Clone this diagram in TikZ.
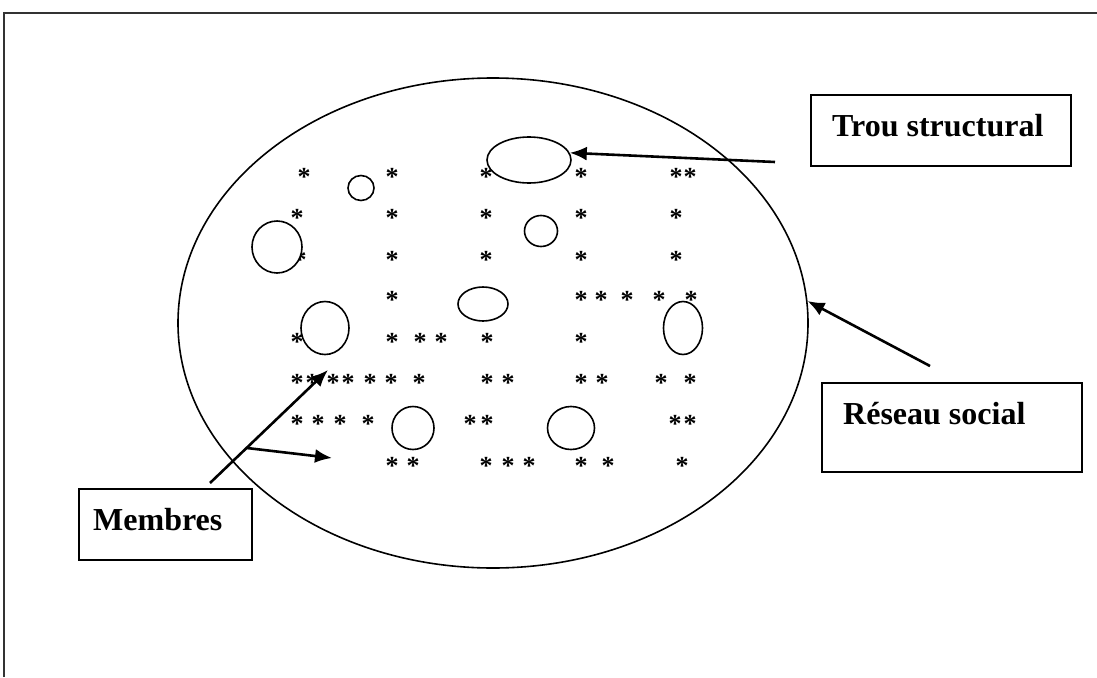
\documentclass[tikz,border=0pt]{standalone}
\usepackage{fontspec}
\setmainfont{Liberation Serif}
\usetikzlibrary{shapes.geometric,arrows.meta}
\tikzset{
  hole/.style={draw,ellipse,fill=white,line width=1.6pt,inner sep=0pt},
  ast/.style={font=\fontsize{26}{26}\selectfont\bfseries,inner sep=0pt,anchor=base,yshift=-12pt},
  box/.style={draw,line width=2pt,fill=white,inner sep=0pt},
  boxtext/.style={font=\fontsize{32}{32}\selectfont\bfseries,inner sep=0pt,anchor=base west},
  pointer/.style={line width=2.6pt,-{Latex[length=17pt,width=14pt]}}
}

\begin{document}
\begin{tikzpicture}[x=1pt,y=-1pt]
  \useasboundingbox (0,0) rectangle (1097,677);
  \draw[line width=1.6pt,black!80] (4,677) -- (4,13) -- (1097,13);

  % le reseau
  \node[draw,ellipse,line width=1.6pt,minimum width=630pt,minimum height=490pt,inner sep=0pt] (reseau) at (493,323) {};

  % les membres
  \foreach \x/\y [count=\i] in {304/173,392/173,486/173,581/173,676/173,690/173,
      297/214,392/214,486/214,581/214,676/214,
      300/256,392/256,486/256,581/256,676/256,
      392/296,581/296,601/296,627/296,659/296,691/296,
      297/338,392/338,420/338,441/338,487/338,581/338,
      297/379,312/379,333/379,348/379,370/379,391/379,419/379,487/379,508/379,581/379,602/379,661/379,690/379,
      297/420,318/420,340/420,368/420,470/420,487/420,675/420,690/420,
      392/462,413/462,486/462,508/462,529/462,581/462,608/462,682/462}
    \node[ast] (m\i) at (\x,\y) {*};

  % les trous
  \node[hole,minimum width=84pt,minimum height=46pt] (h1) at (529,160) {};
  \node[hole,minimum width=26pt,minimum height=25pt] (h2) at (361,188) {};
  \node[hole,minimum width=50pt,minimum height=52pt] (h3) at (277,247) {};
  \node[hole,minimum width=33pt,minimum height=31pt] (h4) at (541,231) {};
  \node[hole,minimum width=50pt,minimum height=34pt] (h5) at (483,304) {};
  \node[hole,minimum width=48pt,minimum height=53pt] (h6) at (325,328) {};
  \node[hole,minimum width=39pt,minimum height=53pt] (h7) at (683,328) {};
  \node[hole,minimum width=42pt,minimum height=43pt] (h8) at (413,428) {};
  \node[hole,minimum width=47pt,minimum height=43pt] (h9) at (571,428) {};

  % fleches
  \coordinate (trouTail) at (775,162);
  \coordinate (reseauTail) at (930,366);
  \coordinate (membresTail) at (210,483);
  \coordinate (tipA) at (328,370);
  \coordinate (tipB) at (332,458);
  \draw[pointer] (trouTail) -- (h1.10);
  \draw[pointer] (reseauTail) -- (reseau.4);
  \draw[pointer] (membresTail) -- coordinate[pos=.31] (split) (tipA);
  \draw[pointer] (split) -- (tipB);

  % etiquettes
  \node[box,minimum width=260pt,minimum height=71pt] (trou) at (941,130.5) {};
  \node[box,minimum width=260pt,minimum height=89pt] (reseaubox) at (952,427.5) {};
  \node[box,minimum width=173pt,minimum height=71pt] (membres) at (165.5,524.5) {};
  \node[boxtext] (troutext) at (832,136) {Trou structural};
  \node[boxtext] (reseautext) at (843,424) {Réseau social};
  \node[boxtext] (membrestext) at (93,530) {Membres};
\end{tikzpicture}
\end{document}
